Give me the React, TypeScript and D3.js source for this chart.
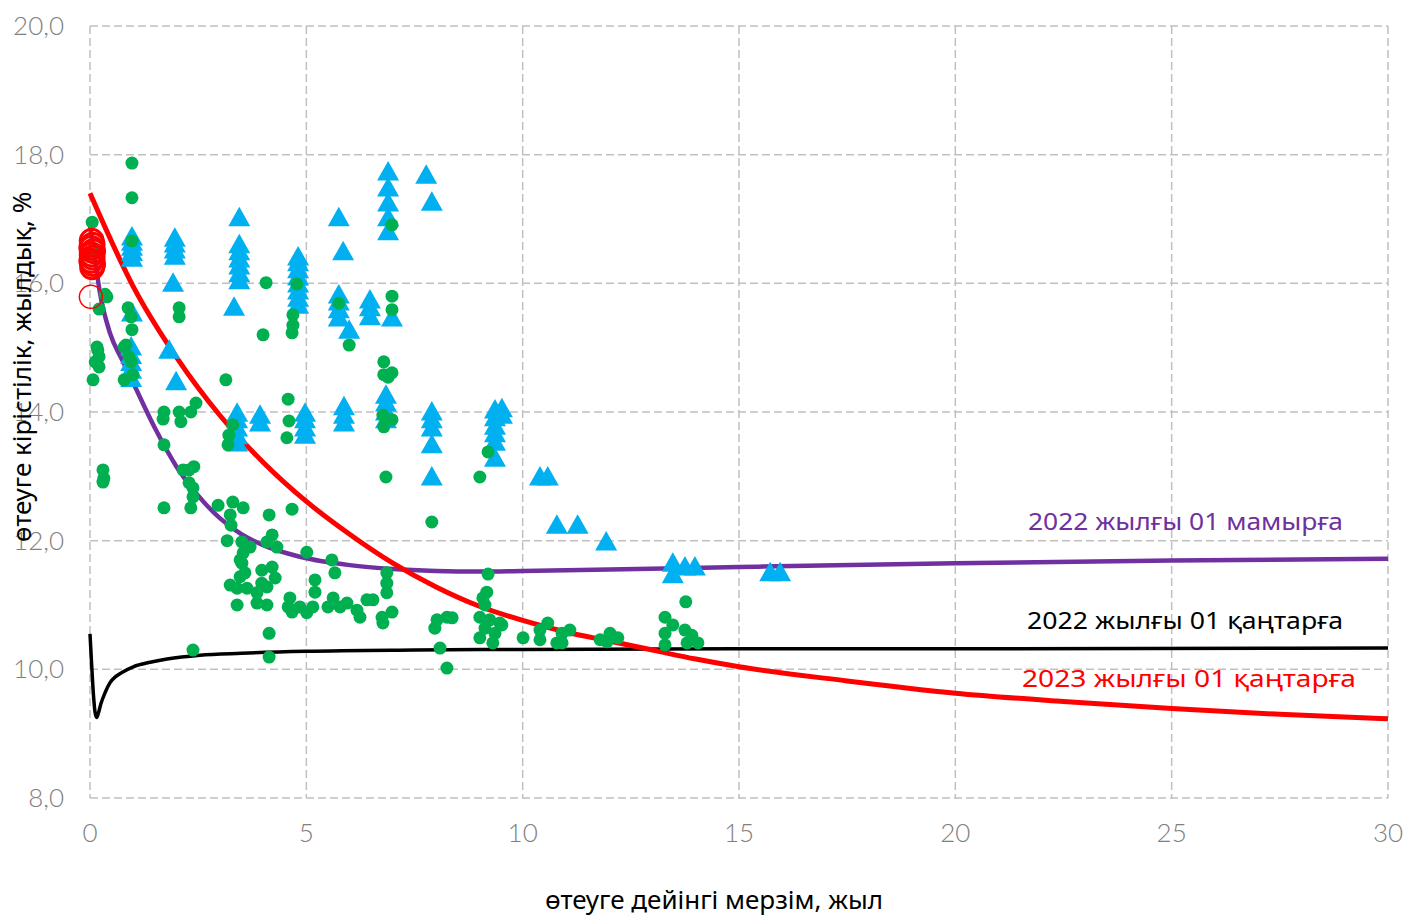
import React from 'react';
import * as d3 from 'd3';

// кривые доходности (x - лет до погашения, y - доходность %)
const curveMay22: [number, number][] = [
  [0, 16.9], [0.1, 16.45], [0.23, 15.85], [0.46, 15.23], [0.75, 14.8], [1, 14.45],
  [1.5, 13.75], [2, 13.15], [2.5, 12.7], [3, 12.35], [3.5, 12.1], [4, 11.93],
  [4.85, 11.75], [6, 11.62], [7, 11.56], [8, 11.53], [9, 11.52], [10, 11.53],
  [12, 11.55], [15, 11.59], [20, 11.65], [25, 11.69], [30, 11.72],
];
const curveJan22: [number, number][] = [
  [0, 10.55], [0.04, 10.05], [0.08, 9.6], [0.12, 9.32], [0.155, 9.25], [0.19, 9.31],
  [0.25, 9.46], [0.35, 9.64], [0.46, 9.79], [0.6, 9.89], [0.76, 9.96], [1, 10.04],
  [1.39, 10.11], [1.78, 10.16], [2.54, 10.22], [3.5, 10.25], [5, 10.28], [7.5, 10.3],
  [10, 10.31], [15, 10.32], [20, 10.32], [30, 10.33],
];
const curveJan23: [number, number][] = [
  [0, 17.4], [1, 15.95], [2, 14.85], [3, 13.95], [4, 13.22], [5, 12.61], [6, 12.1],
  [7, 11.65], [8, 11.28], [9, 10.98], [10, 10.76], [11, 10.58], [12, 10.44], [13, 10.3],
  [14, 10.16], [15, 10.04], [17.5, 9.82], [20, 9.63], [22.5, 9.5], [25, 9.39],
  [27.5, 9.3], [30, 9.23],
];

// сделки
const greenDeals: [number, number][] = [
  [0.97, 17.87], [0.97, 17.33], [0.05, 16.95], [0.97, 16.66], [0.05, 16.5], [4.07, 16.01],
  [0.35, 15.83], [0.39, 15.79], [0.21, 15.6], [0.88, 15.62], [0.95, 15.48], [0.97, 15.28],
  [2.06, 15.62], [2.06, 15.48], [4.0, 15.2], [0.16, 15.01], [0.79, 15.01],
  [0.18, 14.96], [0.21, 14.86], [0.12, 14.78], [0.21, 14.7], [0.07, 14.5], [0.83, 15.04],
  [0.9, 14.86], [0.95, 14.78], [0.79, 14.5], [0.99, 14.58],
  [3.14, 14.5], [1.71, 14.0], [1.69, 13.89], [2.06, 14.0], [2.1, 13.85], [2.33, 14.0],
  [2.45, 14.14], [3.3, 13.8], [3.21, 13.64], [3.19, 13.49], [1.71, 13.49],
  [0.3, 13.1], [0.32, 12.97], [0.3, 12.91], [2.15, 13.1], [2.29, 13.1], [2.4, 13.15],
  [2.29, 12.9], [2.38, 12.82], [2.38, 12.68], [1.71, 12.51], [2.33, 12.51], [2.96, 12.55],
  [3.3, 12.6], [3.54, 12.51], [3.24, 12.4], [3.26, 12.24], [4.14, 12.4], [4.67, 12.49],
  [3.17, 12.0], [3.51, 11.98], [3.7, 11.9], [4.21, 12.09], [4.09, 11.98], [4.32, 11.9],
  [3.54, 11.81], [3.51, 11.65], [3.58, 11.5], [3.47, 11.44], [3.47, 11.7], [5.01, 11.82],
  [5.59, 11.7], [5.66, 11.5], [3.97, 11.54], [3.97, 11.34], [4.21, 11.59], [4.28, 11.42],
  [4.09, 11.28], [3.24, 11.31], [3.4, 11.26], [3.63, 11.26], [3.86, 11.19], [3.4, 11.0],
  [3.86, 11.03], [4.09, 11.0], [4.62, 11.11], [4.58, 10.97], [4.67, 10.89], [4.85, 10.97],
  [5.01, 10.88], [5.2, 11.39], [5.2, 11.2], [5.15, 10.97], [5.5, 10.97], [5.62, 11.11],
  [5.78, 10.97], [5.94, 11.03], [6.17, 10.92], [6.24, 10.81], [6.4, 11.08], [6.54, 11.08],
  [6.75, 10.81], [6.77, 10.72], [6.98, 10.89], [6.86, 11.5], [6.86, 11.34], [6.86, 11.19],
  [4.14, 10.56], [4.14, 10.19], [8.02, 10.77], [7.97, 10.64], [8.25, 10.81], [8.37, 10.8],
  [8.09, 10.33], [8.25, 10.02], [9.2, 11.48], [9.17, 11.2], [9.08, 11.11], [9.13, 11.0],
  [9.01, 10.81], [9.24, 10.77], [9.47, 10.72], [9.13, 10.64], [9.36, 10.56], [9.01, 10.49],
  [9.52, 10.69], [9.31, 10.41], [10.01, 10.49], [10.4, 10.61], [10.4, 10.46], [10.58, 10.72],
  [10.79, 10.41], [10.91, 10.56], [11.09, 10.61], [10.91, 10.41], [11.79, 10.46],
  [12.02, 10.56], [12.2, 10.49], [11.95, 10.43], [13.29, 10.81], [13.47, 10.69],
  [13.29, 10.56], [13.29, 10.38], [13.77, 11.05], [13.75, 10.61], [13.91, 10.53],
  [14.05, 10.41], [13.8, 10.41],
  [4.78, 15.99], [4.69, 15.51], [4.69, 15.35], [4.67, 15.23], [4.58, 14.2], [4.6, 13.86],
  [4.55, 13.6], [5.75, 15.69], [5.99, 15.04], [6.98, 16.91], [6.98, 15.8], [6.98, 15.59],
  [6.79, 14.78], [6.79, 14.58], [6.98, 14.61], [6.89, 14.54], [6.77, 13.95], [6.98, 13.88],
  [6.79, 13.77], [6.84, 12.99], [9.01, 12.99], [7.9, 12.29], [9.2, 13.38], [2.38, 10.3],
];

const blueQuotes: [number, number][] = [
  [0.97, 16.72], [0.97, 16.64], [0.97, 16.56], [0.97, 16.48], [0.97, 16.39], [0.97, 15.54],
  [0.95, 15.01], [0.95, 14.88], [0.95, 14.77], [0.95, 14.65], [0.95, 14.52],
  [1.96, 16.7], [1.96, 16.61], [1.96, 16.52], [1.96, 16.42], [1.92, 16.0], [1.83, 14.96],
  [1.99, 14.47],
  [3.45, 17.02], [3.45, 16.6], [3.45, 16.49], [3.45, 16.38], [3.45, 16.27], [3.45, 16.15],
  [3.45, 16.04], [3.33, 15.63], [3.4, 13.98], [3.4, 13.88], [3.4, 13.75], [3.4, 13.63],
  [3.4, 13.52], [3.93, 13.95], [3.93, 13.83],
  [4.81, 16.41], [4.81, 16.32], [4.81, 16.21], [4.81, 16.1], [4.81, 15.99], [4.81, 15.88],
  [4.81, 15.77], [4.81, 15.66], [4.97, 13.98], [4.97, 13.88], [4.97, 13.75], [4.97, 13.64],
  [5.75, 17.02], [5.85, 16.49], [5.75, 15.82], [5.75, 15.71], [5.75, 15.59], [5.75, 15.46],
  [5.99, 15.27], [6.47, 15.74], [6.47, 15.62], [6.47, 15.48], [5.87, 14.08], [5.87, 13.95],
  [5.87, 13.83],
  [6.89, 17.73], [6.89, 17.48], [6.89, 17.25], [6.89, 17.02], [6.89, 16.8], [7.77, 17.68],
  [7.9, 17.26], [6.98, 15.46], [6.84, 14.26], [6.84, 14.14], [6.84, 14.0], [6.84, 13.88],
  [7.9, 14.0], [7.9, 13.88], [7.9, 13.75], [7.9, 13.49], [7.9, 12.99],
  [9.36, 14.03], [9.36, 13.91], [9.36, 13.78], [9.36, 13.66], [9.36, 13.53], [9.36, 13.28],
  [9.52, 14.05], [9.52, 13.95],
  [10.4, 12.99], [10.58, 12.99], [10.79, 12.24], [11.27, 12.24], [11.93, 11.98],
  [13.47, 11.65], [13.47, 11.47], [13.75, 11.59], [13.98, 11.59], [15.72, 11.5], [15.95, 11.5],
];

const redShort: [number, number][] = [
  [0.04, 16.66], [0.06, 16.6], [0.03, 16.55], [0.07, 16.5], [0.04, 16.45], [0.06, 16.4],
  [0.03, 16.35], [0.07, 16.3], [0.05, 16.25], [0.02, 15.79],
];

const xTicks = [0, 5, 10, 15, 20, 25, 30];
const yTicks = [8, 10, 12, 14, 16, 18, 20];

const W = 1404;
const H = 919;
const margin = { left: 90, top: 26, right: 16, bottom: 121 };

const sansCyr = "'Noto Sans', 'DejaVu Sans', sans-serif";
const sansNum = "Lato, 'Noto Sans', sans-serif";

export default function App() {
  const x = d3.scaleLinear().domain([0, 30]).range([margin.left, W - margin.right]);
  const y = d3.scaleLinear().domain([8, 20]).range([H - margin.bottom, margin.top]);

  const line = d3
    .line<[number, number]>()
    .x((d) => x(d[0]))
    .y((d) => y(d[1]))
    .curve(d3.curveMonotoneX);

  const tri = 'M0,-11L11,8.5L-11,8.5Z';
  const fmt = (v: number) => v.toFixed(1).replace('.', ',');

  return (
    <svg
      width={W}
      height={H}
      style={{ position: 'absolute', left: 0, top: 0, background: '#fff' }}
    >
      {/* сетка */}
      <g stroke="#c0c0c0" strokeWidth={1.5} strokeDasharray="8,4" fill="none">
        {yTicks.map((t) => (
          <line key={'h' + t} x1={x(0)} x2={x(30)} y1={y(t)} y2={y(t)} />
        ))}
        {xTicks.map((t) => (
          <line key={'v' + t} x1={x(t)} x2={x(t)} y1={y(20)} y2={y(8)} />
        ))}
      </g>

      {/* подписи осей */}
      <g fill="#808080" fontFamily={sansNum} fontWeight={300} fontSize={26}>
        {yTicks.map((t) => (
          <text key={'yl' + t} x={64} y={y(t)} dy="0.35em" textAnchor="end">
            {fmt(t)}
          </text>
        ))}
        {xTicks.map((t) => (
          <text key={'xl' + t} x={x(t)} y={842} textAnchor="middle">
            {t}
          </text>
        ))}
      </g>

      {/* кривые */}
      <path d={line(curveJan22) || ''} fill="none" stroke="#000" strokeWidth={3.5} />
      <path d={line(curveMay22) || ''} fill="none" stroke="#7030a0" strokeWidth={4.5} />
      <path d={line(curveJan23) || ''} fill="none" stroke="#ff0000" strokeWidth={5} />

      {/* котировки */}
      <g fill="#00b0f0">
        {blueQuotes.map((d, i) => (
          <path key={'b' + i} d={tri} transform={`translate(${x(d[0])},${y(d[1])})`} />
        ))}
      </g>
      <g fill="#00b050">
        {greenDeals.map((d, i) => (
          <circle key={'g' + i} cx={x(d[0])} cy={y(d[1])} r={6.5} />
        ))}
      </g>
      <g fill="none" stroke="#ff0000">
        {redShort.map((d, i) => (
          <circle
            key={'r' + i}
            cx={x(d[0])}
            cy={y(d[1])}
            r={11.5}
            strokeWidth={i === redShort.length - 1 ? 1.5 : 3}
          />
        ))}
      </g>

      {/* легенда на кривых */}
      <g fontFamily={sansCyr} fontSize={23}>
        <text x={1028} y={530} fill="#7030a0" textLength={315} lengthAdjust="spacingAndGlyphs">
          2022 жылғы 01 мамырға
        </text>
        <text x={1027} y={629} fill="#000" textLength={316} lengthAdjust="spacingAndGlyphs">
          2022 жылғы 01 қаңтарға
        </text>
        <text x={1022} y={687} fill="#ff0000" textLength={334} lengthAdjust="spacingAndGlyphs">
          2023 жылғы 01 қаңтарға
        </text>
      </g>

      {/* названия осей */}
      <text
        x={714}
        y={909}
        textAnchor="middle"
        fontFamily={sansCyr}
        fontSize={26}
        fill="#000"
      >
        өтеуге дейінгі мерзім, жыл
      </text>
      <text
        transform="translate(31,367) rotate(-90)"
        textAnchor="middle"
        fontFamily={sansCyr}
        fontSize={26}
        fill="#000"
      >
        өтеуге кірістілік, жылдық, %
      </text>
    </svg>
  );
}
